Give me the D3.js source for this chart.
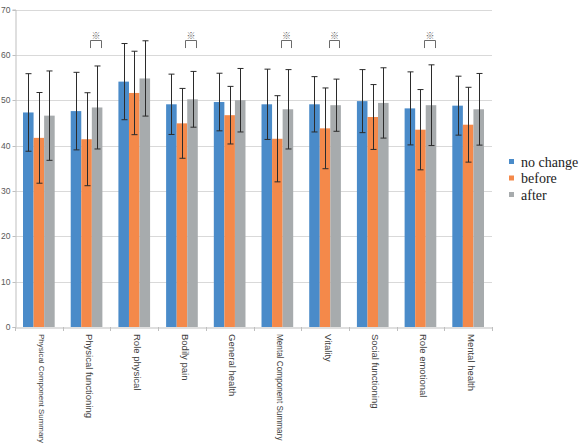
<!DOCTYPE html>
<html><head><meta charset="utf-8">
<script src="https://cdn.jsdelivr.net/npm/d3@7"></script>
<style>body{margin:0;background:#fff}svg{display:block}</style>
</head><body>
<svg id="c" width="583" height="446"></svg>
<script>
const categories = ["Physical Component Summary","Physical functioning","Role physical","Bodily pain","General health","Mental Component Summary","Vitality","Social functioning","Role emotional","Mental health"];
const seriesNames = ["no change","before","after"];
const noChange = [47.3,47.6,54.1,49.1,49.6,49.1,49.1,49.8,48.2,48.8];
const before   = [41.7,41.4,51.6,44.9,46.7,41.5,43.8,46.3,43.5,44.6];
const after    = [46.6,48.4,54.8,50.2,50.0,48.0,48.9,49.4,48.9,48.0];
const noChangeErr = [8.55,8.55,8.4,6.65,6.35,7.75,6.1,6.95,8.05,6.5];
const beforeErr   = [10.0,10.25,9.2,7.7,6.35,9.5,8.9,7.15,8.85,8.25];
const afterErr    = [9.85,9.15,8.3,6.15,7.0,8.75,5.75,7.75,8.9,7.9];
const significant = ["Physical functioning","Bodily pain","Mental Component Summary","Vitality","Role emotional"];
const yTicks = [0,10,20,30,40,50,60,70];
const colors = ["#4a8bc9","#f4894a","#a7abad"];

const values = [noChange, before, after];
const errs = [noChangeErr, beforeErr, afterErr];

const svg = d3.select("#c");
const W = 583, H = 446;
const x0 = 15, x1 = 492, yBottom = 327, yTop = 9.5;
const x = d3.scaleBand().domain(categories).range([x0, x1]).paddingInner(0).paddingOuter(0);
const bw = x.bandwidth();
const groupW = bw * 0.664;
const xs = d3.scaleBand().domain(seriesNames).range([(bw-groupW)/2, (bw+groupW)/2]).padding(0);
const y = d3.scaleLinear().domain([0,70]).range([yBottom, yTop]);

// gridlines
svg.append("g").selectAll("line").data(yTicks.filter(d=>d>0)).join("line")
  .attr("x1", x0).attr("x2", x1)
  .attr("y1", d=>Math.round(y(d))+0.5).attr("y2", d=>Math.round(y(d))+0.5)
  .attr("stroke", "#d9d9d9").attr("stroke-width", 1);

// y axis
const yAxis = d3.axisLeft(y).tickValues(yTicks).tickSize(3).tickPadding(2);
const gy = svg.append("g").attr("transform", `translate(${x0+0.5},0)`).call(yAxis);
gy.select(".domain").attr("stroke", "#bfbfbf");
gy.selectAll(".tick line").attr("stroke", "#bfbfbf");
gy.selectAll(".tick text").attr("fill", "#595959").style("font-family","Liberation Sans, Arial, sans-serif").style("font-size","8.5px");
gy.selectAll(".tick").attr("transform", d=>`translate(0,${Math.round(y(d))+0.5})`);

// bars
const data = [];
categories.forEach((c,i)=>seriesNames.forEach((s,j)=>data.push({c, s, j, v: values[j][i], e: errs[j][i]})));
svg.append("g").selectAll("rect").data(data).join("rect")
  .attr("x", d=>x(d.c)+xs(d.s))
  .attr("width", xs.bandwidth())
  .attr("y", d=>y(d.v))
  .attr("height", d=>yBottom - y(d.v))
  .attr("fill", d=>colors[d.j]);

// x axis
const xAxis = d3.axisBottom(x).tickSize(0).tickFormat("");
const gx = svg.append("g").attr("transform", `translate(0,${yBottom+0.5})`).call(xAxis);
gx.select(".domain").attr("stroke", "#bfbfbf");
svg.append("g").selectAll("line").data(d3.range(categories.length+1)).join("line")
  .attr("x1", i=>Math.round(x0 + i*bw)+0.5).attr("x2", i=>Math.round(x0 + i*bw)+0.5)
  .attr("y1", yBottom).attr("y2", yBottom+4).attr("stroke", "#bfbfbf");

// error bars
const eg = svg.append("g").attr("stroke", "#2b2b2b").attr("stroke-width", 1).attr("fill","none");
data.forEach(d=>{
  const cx = Math.round(x(d.c)+xs(d.s)+xs.bandwidth()/2)+0.5;
  const yt = y(d.v + d.e), yb = y(d.v - d.e);
  eg.append("line").attr("x1",cx).attr("x2",cx).attr("y1",yt).attr("y2",yb);
  eg.append("line").attr("x1",cx-3).attr("x2",cx+3).attr("y1",yt).attr("y2",yt);
  eg.append("line").attr("x1",cx-3).attr("x2",cx+3).attr("y1",yb).attr("y2",yb);
});

// significance brackets
const sg = svg.append("g");
significant.forEach(c=>{
  const xa = Math.round(x(c) + xs("before") + xs.bandwidth()/2 + 3.5)+0.5;
  const xb = Math.round(x(c) + xs("after") + xs.bandwidth()/2 + 3.5)+0.5;
  const yt = Math.round(y(63.3))+0.5, yl = y(61.5);
  sg.append("path").attr("d", `M${xa},${yl}V${yt}H${xb}V${yl}`).attr("stroke","#6b6b6b").attr("fill","none").attr("stroke-width",1);
  sg.append("text").attr("x",(xa+xb)/2).attr("y", yt-1.5).attr("text-anchor","middle")
    .style("font-family","Noto Sans CJK JP").style("font-size","9px").attr("fill","#666").text("※");
});

// x labels
const labY = yBottom + 7;
const maxLen = H - labY - 3;
svg.append("g").selectAll("text").data(categories).join("text")
  .attr("transform", d=>`translate(${x(d)+bw/2+3},${labY}) rotate(90)`)
  .attr("dy","0.35em")
  .style("font-family","Liberation Sans, Arial, sans-serif")
  .style("font-size", d=> d==="Mental Component Summary" ? "8.2px" : "9.5px")
  .attr("fill","#404040")
  .text(d=>d)
  .each(function(){
    const len = this.getComputedTextLength();
    if (len > maxLen) {
      const fs = parseFloat(this.style.fontSize);
      this.style.fontSize = (fs * maxLen / len).toFixed(2) + "px";
    }
  });

// legend
const lg = svg.append("g").attr("transform","translate(509,0)");
seriesNames.forEach((s,j)=>{
  const yy = 162 + j*16.5;
  lg.append("rect").attr("x",0).attr("y",yy-3).attr("width",5).attr("height",5).attr("fill",colors[j]);
  lg.append("text").attr("x",12).attr("y",yy).attr("dy","0.35em")
    .style("font-family","Liberation Serif, Times New Roman, serif").style("font-size","14px").attr("fill","#222").text(s);
});
</script>
</body></html>
